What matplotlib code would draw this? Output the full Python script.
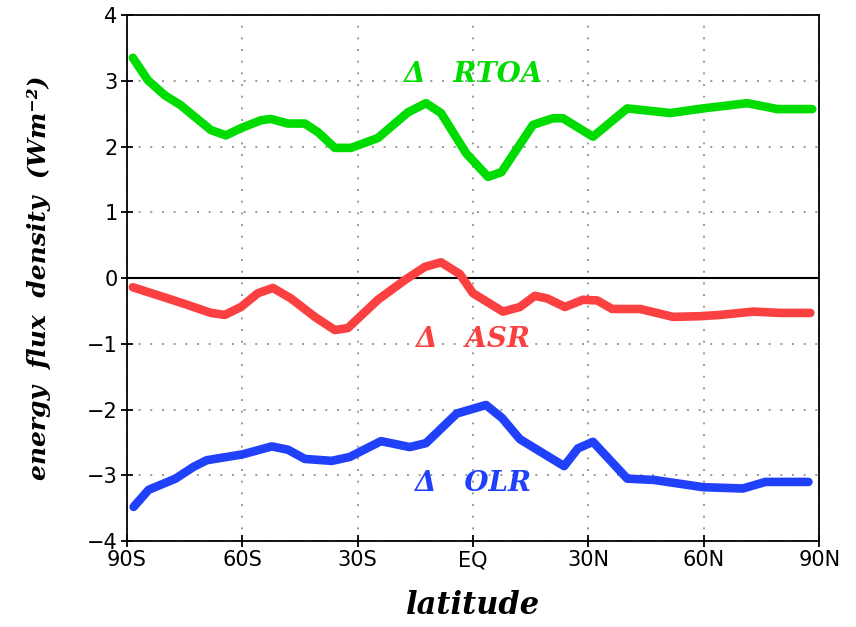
import matplotlib
matplotlib.use("Agg")
import matplotlib.pyplot as plt
from matplotlib import font_manager as fm

lat_rtoa = [-88.4, -84.5, -80.1, -76.0, -68.1, -64.2, -60.3, -55.1, -52.5, -48.1, -43.7, -40.3,
            -35.9, -31.7, -24.7, -16.9, -12.2, -8.3, -1.8, 3.9, 7.4, 15.6, 20.8, 23.4, 31.2,
            40.1, 51.3, 59.8, 71.3, 79.1, 88.2]
rtoa = [3.35, 3.01, 2.78, 2.63, 2.25, 2.17, 2.28, 2.40, 2.42, 2.35, 2.35, 2.22,
        1.98, 1.98, 2.13, 2.52, 2.66, 2.51, 1.90, 1.54, 1.61, 2.33, 2.43, 2.43, 2.15,
        2.58, 2.51, 2.58, 2.66, 2.57, 2.57]

lat_asr = [-88.4, -79.3, -74.1, -68.1, -64.5, -60.3, -55.9, -52.0, -47.3, -41.1, -35.9, -32.5,
           -24.7, -17.7, -12.5, -8.3, -3.4, 0.0, 7.8, 12.2, 16.1, 19.3, 23.9, 28.6, 32.3,
           36.2, 43.5, 52.0, 59.1, 64.3, 72.9, 79.9, 87.7]
asr = [-0.14, -0.31, -0.41, -0.53, -0.56, -0.44, -0.23, -0.15, -0.31, -0.59, -0.79, -0.76,
       -0.33, -0.03, 0.17, 0.24, 0.06, -0.23, -0.51, -0.44, -0.27, -0.31, -0.44, -0.33, -0.34,
       -0.47, -0.47, -0.59, -0.58, -0.56, -0.51, -0.53, -0.53]

lat_olr = [-88.2, -84.3, -77.3, -72.6, -69.2, -59.8, -52.3, -48.1, -43.7, -36.7, -32.0, -23.9,
           -16.4, -12.2, -4.2, 3.4, 7.6, 12.2, 23.7, 27.3, 31.2, 40.1, 47.1, 59.8, 70.2,
           76.0, 87.2]
olr = [-3.48, -3.22, -3.05, -2.87, -2.77, -2.68, -2.56, -2.61, -2.75, -2.78, -2.72, -2.48,
       -2.57, -2.51, -2.06, -1.93, -2.13, -2.45, -2.86, -2.59, -2.49, -3.05, -3.07, -3.18, -3.20,
       -3.10, -3.10]

xticks = [-90, -60, -30, 0, 30, 60, 90]
xticklabels = ["90S", "60S", "30S", "EQ", "30N", "60N", "90N"]
yticks = [-4, -3, -2, -1, 0, 1, 2, 3, 4]
yticklabels = ["\u22124", "\u22123", "\u22122", "\u22121", "0", "1", "2", "3", "4"]

names = {f.name for f in fm.fontManager.ttflist}
tickfam = "Liberation Sans Narrow" if "Liberation Sans Narrow" in names else "DejaVu Sans"

fig = plt.figure(figsize=(8.56, 6.27), dpi=100)
ax = fig.add_axes([0.148, 0.137, 0.809, 0.839])

kw = dict(lw=6.2, solid_capstyle="round", solid_joinstyle="round", zorder=3)
ax.plot(lat_rtoa, rtoa, color="#00DC00", **kw)
ax.plot(lat_asr, asr, color="#FA4040", **kw)
ax.plot(lat_olr, olr, color="#2040FA", **kw)

ax.axhline(0, color="black", lw=1.5, zorder=2)
ax.set_xlim(-90, 90)
ax.set_ylim(-4, 4)
ax.set_xticks(xticks)
ax.set_xticklabels(xticklabels, family=tickfam, fontsize=15)
ax.set_yticks(yticks)
ax.set_yticklabels(yticklabels, family=tickfam, fontsize=15)
ax.tick_params(direction="inout", length=9, width=1.3, pad=2)
ax.grid(True, color="#999999", linestyle=(0, (1, 5)), lw=1.4)
for s in ax.spines.values():
    s.set_linewidth(1.3)

lab = dict(family="DejaVu Serif", style="italic", fontweight="bold")
ax.set_xlabel("latitude", fontsize=22, labelpad=14, **lab)
ax.set_ylabel("energy  flux  density  (Wm\u207b\u00b2)", fontsize=18, labelpad=26, **lab)

ax.text(0, 3.09, "\u0394   RTOA", color="#00DC00", fontsize=20, ha="center", va="center", **lab)
ax.text(0, -0.94, "\u0394   ASR", color="#FA4040", fontsize=20, ha="center", va="center", **lab)
ax.text(0, -3.12, "\u0394   OLR", color="#2040FA", fontsize=20, ha="center", va="center", **lab)

fig.savefig("out.png", dpi=100)
